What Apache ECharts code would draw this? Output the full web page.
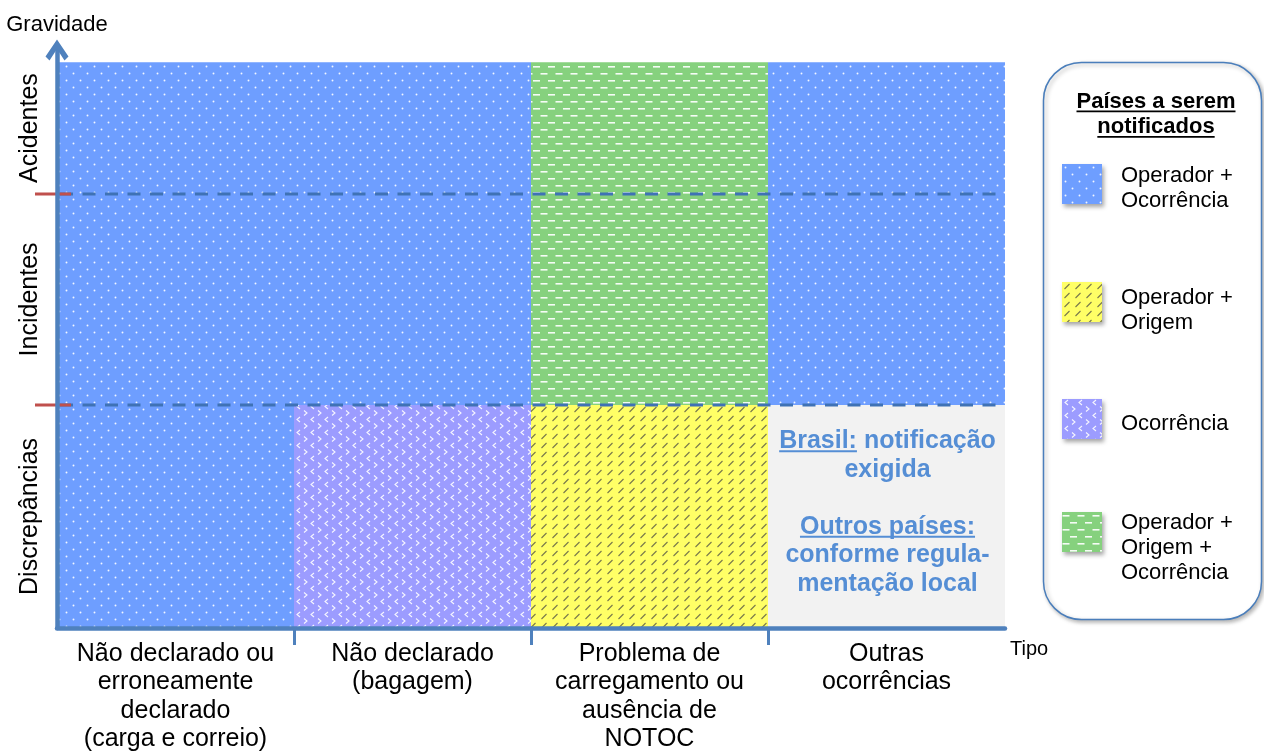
<!DOCTYPE html>
<html><head><meta charset="utf-8">
<script src="https://cdn.jsdelivr.net/npm/echarts@6/dist/echarts.min.js"></script>
<style>html,body{margin:0;padding:0;background:#fff}#c{width:1264px;height:756px}</style>
</head><body><div id="c"></div>
<script>
// ---------- data ----------
const typeLabels = [
  'Não declarado ou\nerroneamente\ndeclarado\n(carga e correio)',
  'Não declarado\n(bagagem)',
  'Problema de\ncarregamento ou\nausência de\nNOTOC',
  'Outras\nocorrências'
];
const severityLabels = ['Discrepâncias', 'Incidentes', 'Acidentes'];
const severityEdges = [0, 38.6, 75.1, 97.9];
const groupNames = [
  'Operador +\nOcorrência',
  'Operador +\nOrigem',
  'Ocorrência',
  'Operador +\nOrigem +\nOcorrência'
];
// rows bottom -> top (Discrepâncias, Incidentes, Acidentes); -1 = other (grey note)
const cellGroup = [
  [0, 2, 1, -1],
  [0, 0, 3, 0],
  [0, 0, 3, 0]
];
const noteLines = [
  { text: 'Brasil: notificação', underline: 'Brasil:' },
  { text: 'exigida' },
  { text: '' },
  { text: 'Outros países:', underline: 'Outros países:' },
  { text: 'conforme regula-' },
  { text: 'mentação local' }
];
const legendTitleLines = ['Países a serem', 'notificados'];

// ---------- styling ----------
const FONT = "'Liberation Sans', Arial, Helvetica, sans-serif";
const AXIS = '#4f81bd';
function tile(w, h, bg, draw) {
  const c = document.createElement('canvas');
  c.width = w; c.height = h;
  const ctx = c.getContext('2d');
  ctx.fillStyle = bg; ctx.fillRect(0, 0, w, h);
  draw(ctx);
  return { image: c, repeat: 'repeat' };
}
function dot(ctx, x, y) { ctx.beginPath(); ctx.arc(x, y, 0.95, 0, Math.PI * 2); ctx.fill(); }
const patterns = [
  tile(14, 14, '#6e9eff', ctx => { ctx.fillStyle = 'rgba(255,255,255,0.9)'; dot(ctx, 3.5, 3.5); dot(ctx, 10.5, 10.5); }),
  tile(11, 9, '#ffff66', ctx => {
    ctx.strokeStyle = 'rgba(95,95,70,0.85)'; ctx.lineWidth = 1.1;
    ctx.beginPath(); ctx.moveTo(2.5, 7); ctx.lineTo(7.5, 2); ctx.stroke();
  }),
  tile(14, 13, '#9c9cff', ctx => {
    ctx.strokeStyle = 'rgba(255,255,255,0.9)'; ctx.lineWidth = 1.1;
    ctx.beginPath(); ctx.moveTo(6, 1); ctx.lineTo(3, 3.5); ctx.lineTo(6, 6); ctx.stroke();
    ctx.beginPath(); ctx.moveTo(10, 7.5); ctx.lineTo(13, 10); ctx.lineTo(10, 12.5); ctx.stroke();
  }),
  tile(15, 14, '#86d17e', ctx => {
    ctx.fillStyle = 'rgba(255,255,255,0.92)';
    ctx.fillRect(0.5, 3, 7, 1.6); ctx.fillRect(8, 10, 7, 1.6);
  })
];
const GREY = '#f2f2f2';
const NOTE_COLOR = '#558ed5';

const mctx = document.createElement('canvas').getContext('2d');
function textWidth(t, font) { mctx.font = font; return mctx.measureText(t).width; }

function cellRect(api, col, row) {
  const p0 = api.coord([col, severityEdges[row]]);
  const p1 = api.coord([col + 1, severityEdges[row + 1]]);
  return { x: p0[0], y: p1[1], width: p1[0] - p0[0], height: p0[1] - p1[1] };
}

const series = [];
groupNames.forEach((name, g) => {
  const data = [];
  cellGroup.forEach((row, r) => row.forEach((v, c) => { if (v === g) data.push([c, r]); }));
  series.push({
    type: 'custom', name, coordinateSystem: 'cartesian2d', z: 2, clip: false,
    itemStyle: { color: patterns[g] },
    data,
    renderItem: (params, api) => ({
      type: 'rect', shape: cellRect(api, api.value(0), api.value(1)),
      style: { fill: patterns[g] }
    })
  });
});
// grey note cell
const otherData = [];
cellGroup.forEach((row, r) => row.forEach((v, c) => { if (v === -1) otherData.push([c, r]); }));
series.push({
  type: 'custom', name: 'Outros', coordinateSystem: 'cartesian2d', z: 2, clip: false,
  itemStyle: { color: GREY },
  data: otherData,
  renderItem: (params, api) => {
    const rect = cellRect(api, api.value(0), api.value(1));
    const cx = rect.x + rect.width / 2 + 1;
    const lh = 28.5;
    const fs = 25;
    const font = `bold ${fs}px ${FONT}`;
    const y0 = rect.y + rect.height / 2 - 4 - lh * (noteLines.length - 1) / 2;
    const children = [{ type: 'rect', shape: rect, style: { fill: GREY } }];
    noteLines.forEach((ln, i) => {
      const yc = y0 + i * lh;
      if (!ln.text) return;
      children.push({ type: 'text', style: { text: ln.text, x: cx, y: yc, align: 'center', verticalAlign: 'middle',
        fill: NOTE_COLOR, fontSize: fs, fontWeight: 'bold', fontFamily: FONT } });
      if (ln.underline) {
        const w = textWidth(ln.text, font), u = textWidth(ln.underline, font);
        const xs = cx - w / 2;
        children.push({ type: 'rect', shape: { x: xs, y: yc + 9, width: u, height: 2 }, style: { fill: NOTE_COLOR } });
      }
    });
    return { type: 'group', children };
  }
});
// row boundaries: dashed lines + red marks
series.push({
  type: 'custom', name: 'limites', coordinateSystem: 'cartesian2d', z: 3, clip: false,
  data: severityEdges.slice(1, severityEdges.length - 1).map(v => [0, v]),
  renderItem: (params, api) => {
    const a = api.coord([0, api.value(1)]);
    const b = api.coord([typeLabels.length, api.value(1)]);
    return { type: 'group', children: [
      { type: 'line', shape: { x1: a[0] + 3, y1: a[1], x2: b[0] - 5, y2: b[1] },
        style: { stroke: '#3f72b5', lineWidth: 3, lineDash: [13, 9.5] } },
      { type: 'line', shape: { x1: a[0] - 22, y1: a[1], x2: a[0] + 14, y2: a[1] },
        style: { stroke: '#c0504d', lineWidth: 3 } }
    ] };
  }
});

// legends, one per group (a thin spacer line shifts the text block down relative to the swatch)
const legendTops = [154.5, 269, 399, 479];
const legendSpacer = [9, 16, 10, 31];
const legends = groupNames.map((name, i) => ({
  data: [name], orient: 'vertical', left: 1062, top: legendTops[i], padding: 0,
  icon: 'rect', itemWidth: 40, itemHeight: 40, selectedMode: false, z: 10,
  formatter: n => '{s| }\n' + n,
  itemStyle: { shadowBlur: 4, shadowOffsetX: 2, shadowOffsetY: 3, shadowColor: 'rgba(0,0,0,0.35)' },
  textStyle: { fontSize: 22, lineHeight: 25, color: '#000', fontFamily: FONT, padding: [0, 0, 0, 14],
    rich: { s: { fontSize: 2, lineHeight: legendSpacer[i] } } }
}));

// legend box + title
const titleFont = `bold 22px ${FONT}`;
const graphic = [{
  type: 'rect', z: 1, shape: { x: 1043.5, y: 62.5, width: 218, height: 557, r: 38 },
  style: { fill: '#fff', stroke: '#4a7ebb', lineWidth: 1.5, shadowBlur: 4, shadowOffsetX: 2, shadowOffsetY: 2, shadowColor: 'rgba(0,0,0,0.3)' }
}];
legendTitleLines.forEach((t, i) => {
  const yc = 101.5 + i * 25.5, cx = 1156;
  const w = textWidth(t, titleFont);
  graphic.push({ type: 'text', z: 2, style: { text: t, x: cx, y: yc, align: 'center', verticalAlign: 'middle',
    fill: '#000', fontSize: 22, fontWeight: 'bold', fontFamily: FONT } });
  graphic.push({ type: 'rect', z: 2, shape: { x: cx - w / 2, y: yc + 9, width: w, height: 1.8 }, style: { fill: '#000' } });
});

const bandCenters = severityLabels.map((s, i) => (severityEdges[i] + severityEdges[i + 1]) / 2);

const option = {
  animation: false,
  textStyle: { fontFamily: FONT },
  grid: { left: 57, right: 259, top: 50, bottom: 128, outerBoundsMode: 'none' },
  xAxis: {
    type: 'value', min: 0, max: typeLabels.length, z: 10,
    name: 'Tipo', nameLocation: 'end', nameGap: 5,
    nameTextStyle: { fontSize: 20, color: '#000', verticalAlign: 'top', padding: [11, 0, 0, 0], fontFamily: FONT },
    splitLine: { show: false },
    axisLine: { show: true, lineStyle: { color: AXIS, width: 4.5 } },
    axisTick: { show: true, customValues: [1, 2, 3], length: 17, lineStyle: { color: AXIS, width: 3 } },
    axisLabel: {
      customValues: typeLabels.map((t, i) => i + 0.5),
      formatter: v => typeLabels[Math.floor(v)],
      fontSize: 25, lineHeight: 28.3, color: '#000', margin: 12, fontFamily: FONT
    }
  },
  yAxis: {
    type: 'value', min: 0, max: 100, z: 10,
    name: 'Gravidade', nameLocation: 'end', nameGap: 14,
    nameTextStyle: { fontSize: 22, color: '#000', fontFamily: FONT },
    splitLine: { show: false },
    axisLine: { show: true, symbol: ['none', 'path://M11.5,0 L23,17 L19,21 L11.5,9.5 L4,21 L0,17 Z'], symbolSize: [23, 22],
      lineStyle: { color: AXIS, width: 4.5 } },
    axisTick: { show: false },
    axisLabel: {
      customValues: bandCenters,
      formatter: v => severityLabels[bandCenters.findIndex(c => Math.abs(c - v) < 1e-6)],
      rotate: 90, fontSize: 25, color: '#000', margin: 14, fontFamily: FONT
    }
  },
  legend: legends,
  graphic,
  series
};
const chart = echarts.init(document.getElementById('c'), null, { renderer: 'canvas' });
chart.setOption(option);
</script></body></html>
